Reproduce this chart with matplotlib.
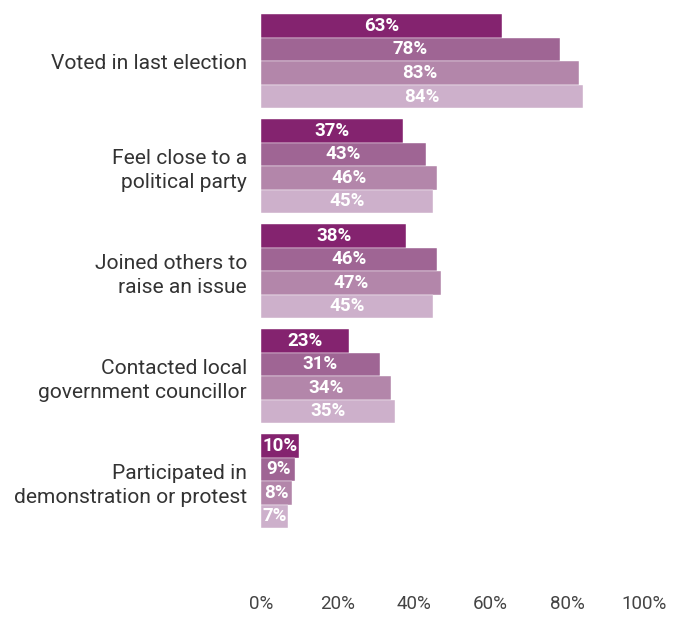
import matplotlib.pyplot as plt
import numpy as np

plt.rcParams['font.family'] = ['Roboto', 'DejaVu Sans']

categories = [
    'Voted in last election',
    'Feel close to a\npolitical party',
    'Joined others to\nraise an issue',
    'Contacted local\ngovernment councillor',
    'Participated in\ndemonstration or protest',
]
series_1 = [63, 37, 38, 23, 10]
series_2 = [78, 43, 46, 31, 9]
series_3 = [83, 46, 47, 34, 8]
series_4 = [84, 45, 45, 35, 7]
x_ticks = [0, 20, 40, 60, 80, 100]

colors = ['#84236f', '#9f6594', '#b386aa', '#cdb0cb']
series = [series_1, series_2, series_3, series_4]

fig = plt.figure(figsize=(6.85, 6.19), dpi=100)
ax = fig.add_axes([0.381, 0.05, 0.559, 0.927])

bar_h = 0.224
pos = np.arange(len(categories))
for j, (vals, col) in enumerate(zip(series, colors)):
    y = pos + (j - 1.5) * bar_h
    bars = ax.barh(y, vals, height=bar_h, color=col, edgecolor='white', linewidth=0.3)
    for b, v in zip(bars, vals):
        ax.text(b.get_width() / 2, b.get_y() + b.get_height() / 2, f'{v}%',
                ha='center', va='center', color='white', fontsize=13.5, fontweight='bold')

ax.set_xlim(0, 100)
ax.set_ylim(5.02, -0.448)
ax.set_yticks(pos)
ax.set_yticklabels(categories, fontsize=15.1, color='#333333', ha='right', linespacing=1.3)
ax.set_xticks(x_ticks)
ax.set_xticklabels([f'{t}%' for t in x_ticks], fontsize=13.5, color='#444444')
ax.tick_params(axis='y', length=0, pad=10)
ax.tick_params(axis='x', length=0, pad=5)
for s in ax.spines.values():
    s.set_visible(False)

fig.savefig('out.png', dpi=100)
